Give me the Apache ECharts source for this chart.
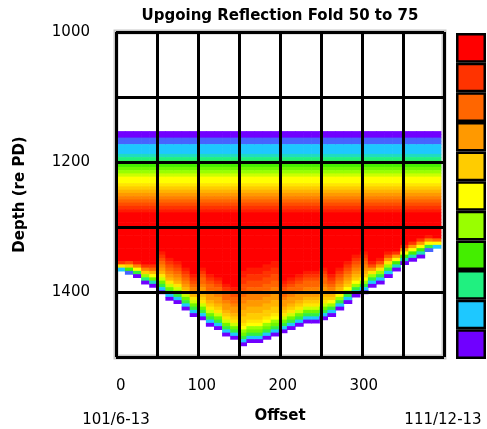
<!DOCTYPE html>
<html><head><meta charset="utf-8">
<script src="https://cdn.jsdelivr.net/npm/echarts@6/dist/echarts.min.js"></script>
<style>html,body{margin:0;padding:0;background:#fff}#c{width:487px;height:429px}</style>
</head><body><div id="c"></div>
<script>
// Offsets (column centres) and depths (row centres) of the fold grid
const offsets = [0,10,20,30,40,50,60,70,80,90,100,110,120,130,140,150,160,170,180,190,
  200,210,220,230,240,250,260,270,280,290,300,310,320,330,340,350,360,370,380,390];
const depths = [1155,1160,1165,1170,1175,1180,1185,1190,1195,1200,
  1205,1210,1215,1220,1225,1230,1235,1240,1245,1250,
  1255,1260,1265,1270,1275,1280,1285,1290,1295,1300,
  1305,1310,1315,1320,1325,1330,1335,1340,1345,1350,
  1355,1360,1365,1370,1375,1380,1385,1390,1395,1400,
  1405,1410,1415,1420,1425,1430,1435,1440,1445,1450,
  1455,1460,1465,1470,1475,1480];
const offsetStep = 10;
const depthStep = 5;
// fold code: a = 50, b = 51.25 ... u = 75
const foldCodes = 'abcdefghijklmnopqrstu';
const foldMin = 50, foldMax = 75;
// depths 1155..1310: identical for every offset
const topProfile = 'aabbcccdefghijkklmnopqrstuuuuuuu';
// depths 1315 downwards, per offset column: [rows at full fold (u), then codes until coverage ends]
const lowerColumns = [
  [8, 'slc'],
  [8, 'rmgb'],
  [8, 'tpkfa'],
  [9, 'spmiea'],
  [9, 'sqnkhda'],
  [5, 'tsrqponljhfca'],
  [7, 'tsrqponljhfca'],
  [8, 'tsrqponljhfca'],
  [10, 'tsrqponljhfca'],
  [12, 'tsrqponljhfca'],
  [10, 'tsrqqpoonmljhfca'],
  [12, 'tsrqqpoonmljhfca'],
  [13, 'tsrqqpoonmljhfca'],
  [15, 'tsrqqpoonmljhfca'],
  [16, 'tsrqqpoonmljhfca'],
  [11, 'ttssrrqqppoonnmmlkihfca'],
  [10, 'ttssrrqqppoonnmmlkihfca'],
  [10, 'ttssrrqqppoonnmmlkihfca'],
  [9, 'ttssrrqqppoonnmmlkihfca'],
  [8, 'ttssrrqqppoonnmmlkihfca'],
  [14, 'tsrqqpoonmljhfca'],
  [13, 'tsrqqpoonmljhfca'],
  [12, 'tsrqqpoonmljhfca'],
  [11, 'tsrqqpoonmljhfca'],
  [11, 'tsrqqpoonmljhfca'],
  [10, 'tsrqqpoonmljhfca'],
  [12, 'tsrqponmkifca'],
  [10, 'tsrqponmkifca'],
  [8, 'tsrqponmkifca'],
  [6, 'tsrqponmkifca'],
  [5, 'tsrqponmkifca'],
  [8, 'trolifca'],
  [7, 'trolifca'],
  [5, 'trolifca'],
  [5, 'sokgda'],
  [3, 'sokgda'],
  [2, 'sokgda'],
  [1, 'sokgda'],
  [0, 'tpkfb'],
  [1, 'qkc']
];
// colour key, bottom (low fold) to top (high fold)
const legendColors = ['#7000ff','#1ec8ff','#20f080','#44ee00','#99ff00','#ffff00',
  '#ffcc00','#ff9900','#ff6600','#ff3300','#ff0000'];
const xTickLabels = [0,100,200,300];
const yTickLabels = [1000,1200,1400];
const endLabels = ['101/6-13','111/12-13'];
const titleText = 'Upgoing Reflection Fold 50 to 75';

const data = [];
offsets.forEach(function (o, c) {
  const col = topProfile + 'u'.repeat(lowerColumns[c][0]) + lowerColumns[c][1];
  for (let j = 0; j < col.length; j++) {
    const idx = foldCodes.indexOf(col[j]);
    if (idx < 0) continue;
    data.push([o, depths[j], foldMin + idx * (foldMax - foldMin) / (foldCodes.length - 1)]);
  }
});

const FONT = 'DejaVu Sans';
const chart = echarts.init(document.getElementById('c'), null, {renderer: 'canvas'});
chart.setOption({
  animation: false,
  backgroundColor: '#fff',
  title: {
    text: titleText, left: 275, top: 4, textAlign: 'center',
    textStyle: {fontFamily: FONT, fontSize: 15, fontWeight: 'bold', color: '#000'}
  },
  grid: [
    {left: 116, top: 32, width: 328, height: 328, show: true, borderColor: '#c8c8c8', borderWidth: 5, backgroundColor: '#fff'},
    {left: 456, top: 33, width: 30, height: 326}
  ],
  xAxis: [
    {gridIndex: 0, type: 'value', min: -6, max: 399,
      axisLine: {show: false}, axisTick: {show: false}, splitLine: {show: false},
      axisLabel: {customValues: xTickLabels, margin: 22, color: '#000', fontFamily: FONT, fontSize: 15},
      name: 'Offset', nameLocation: 'middle', nameGap: 52,
      nameTextStyle: {fontFamily: FONT, fontSize: 15, fontWeight: 'bold', color: '#000'}},
    {gridIndex: 0, type: 'value', min: 0, max: 400, interval: 50, position: 'top',
      axisLine: {show: false}, axisTick: {show: false}, axisLabel: {show: false},
      splitLine: {show: true, lineStyle: {color: '#000', width: 3}}, z: 10},
    {gridIndex: 1, type: 'value', min: 0, max: 1, show: false}
  ],
  yAxis: [
    {gridIndex: 0, type: 'value', min: 1000, max: 1500, interval: 100, inverse: true,
      axisLine: {show: false}, axisTick: {show: false},
      axisLabel: {formatter: function (v) { return yTickLabels.indexOf(v) >= 0 ? String(v) : ''; },
        margin: 26, color: '#000', fontFamily: FONT, fontSize: 15},
      splitLine: {show: true, lineStyle: {color: '#000', width: 3}},
      name: 'Depth (re PD)', nameLocation: 'middle', nameGap: 88, nameRotate: 90,
      nameTextStyle: {fontFamily: FONT, fontSize: 15, fontWeight: 'bold', color: '#000'}, z: 10},
    {gridIndex: 1, type: 'category', data: legendColors.map(function (c, i) { return i; }), show: false}
  ],
  visualMap: {type: 'continuous', show: false, seriesIndex: 0, dimension: 2,
    min: foldMin, max: foldMax, inRange: {color: legendColors}},
  series: [
    {type: 'custom', xAxisIndex: 0, yAxisIndex: 0, data: data, encode: {x: 0, y: 1},
      renderItem: function (params, api) {
        const x = api.value(0), y = api.value(1);
        const p1 = api.coord([x - offsetStep / 2, y - depthStep / 2]);
        const p2 = api.coord([x + offsetStep / 2, y + depthStep / 2]);
        return {type: 'rect',
          shape: {x: Math.min(p1[0], p2[0]), y: Math.min(p1[1], p2[1]),
            width: Math.abs(p2[0] - p1[0]) + 0.6, height: Math.abs(p2[1] - p1[1]) + 0.6},
          style: {fill: api.visual('color')}};
      }},
    {type: 'bar', xAxisIndex: 2, yAxisIndex: 1, silent: true, barWidth: '100%',
      data: legendColors.map(function (c) { return {value: 1, itemStyle: {color: c}}; }),
      itemStyle: {borderColor: '#000', borderWidth: 2.5}}
  ],
  graphic: [
    {type: 'text', x: 116, y: 420, style: {text: endLabels[0], align: 'center', verticalAlign: 'middle',
      fontFamily: FONT, fontSize: 15, fill: '#000'}},
    {type: 'text', x: 443, y: 420, style: {text: endLabels[1], align: 'center', verticalAlign: 'middle',
      fontFamily: FONT, fontSize: 15, fill: '#000'}}
  ]
});
</script></body></html>
